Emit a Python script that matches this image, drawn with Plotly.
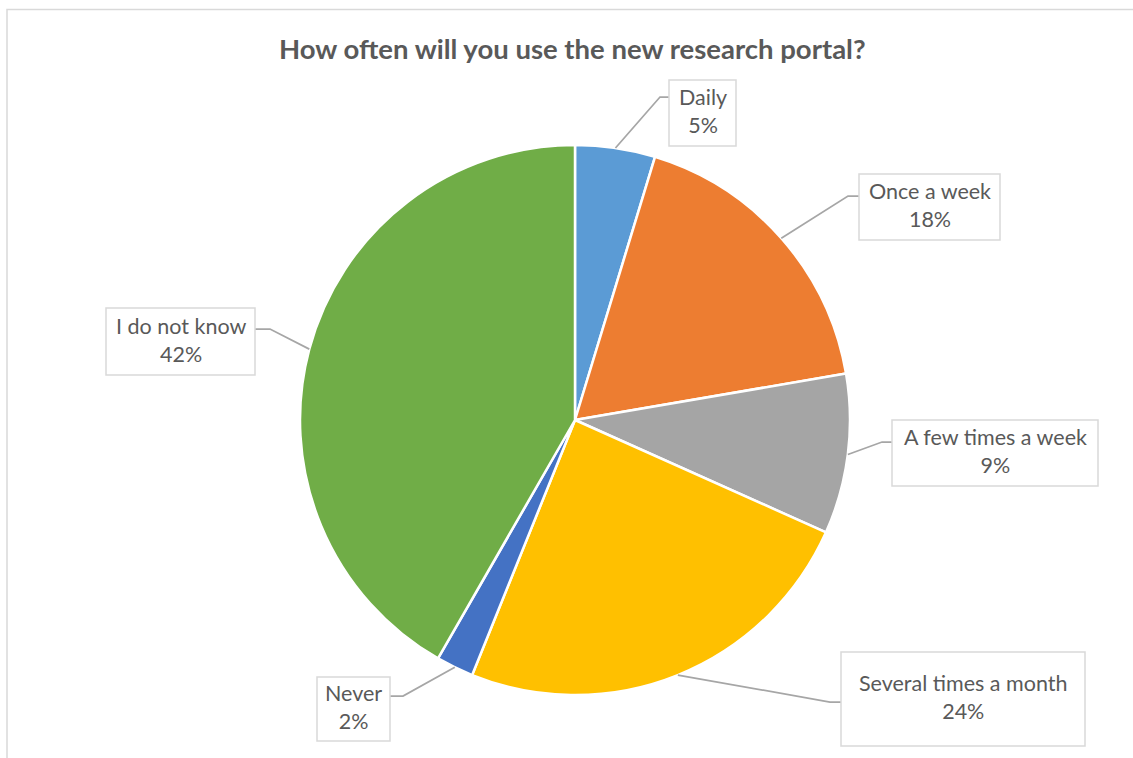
import math
import plotly.graph_objects as go

# ---- data ----
categories = ["Daily", "Once a week", "A few times a week",
              "Several times a month", "Never", "I do not know"]
values = [4.7, 17.6, 9.4, 24.4, 2.2, 41.7]
colors = ["#5B9BD5", "#ED7D31", "#A5A5A5", "#FFC000", "#4472C4", "#70AD47"]
title_text = "How often will you use the new research portal?"

# ---- layout (pixels) ----
W, H = 1133, 758
CX, CY, R = 575, 420, 275
FONT = "Lato"
TXT = "#595959"

# label boxes: (x0, y0, x1, y1) and leader elbow (x, y)
boxes = [
    (669, 80, 736, 146),
    (859, 174, 1000, 240),
    (892, 420, 1098, 486),
    (841, 652, 1085, 746),
    (317, 677, 390, 741),
    (106, 308, 255, 375),
]
elbows = [(660, 97), (848, 196), (882, 442), (830, 702), (403, 696), (270, 329)]


def px(x):
    return x / W


def py(y):
    return 1 - y / H


fig = go.Figure(go.Pie(
    labels=categories, values=values, sort=False, direction="clockwise",
    rotation=0, marker=dict(colors=colors, line=dict(color="white", width=2.5)),
    textinfo="none", hoverinfo="label+percent", showlegend=False,
    domain=dict(x=[px(CX - R), px(CX + R)], y=[py(CY + R), py(CY - R)]),
))

shapes = [dict(type="rect", xref="paper", yref="paper",
               x0=px(7), y0=py(H + 20), x1=px(W + 20), y1=py(9.5),
               line=dict(color="#D9D9D9", width=1.5), fillcolor="rgba(0,0,0,0)")]
annotations = [dict(text=f"<b>{title_text}</b>", x=px(CX - 3), y=py(48), xref="paper",
                    yref="paper", showarrow=False, xanchor="center", yanchor="middle",
                    font=dict(family=FONT, size=27.5, color=TXT))]

total = sum(values)
cum = 0.0
for i, (cat, v) in enumerate(zip(categories, values)):
    mid = (cum + v / 2) / total * 2 * math.pi
    cum += v
    sx = CX + R * math.sin(mid)
    sy = CY - R * math.cos(mid)
    x0, y0, x1, y1 = boxes[i]
    ex, ey = elbows[i]
    bx = x0 if ex < x0 else x1
    path = f"M {px(sx)},{py(sy)} L {px(ex)},{py(ey)} L {px(bx)},{py(ey)}"
    shapes.append(dict(type="path", xref="paper", yref="paper", path=path,
                       line=dict(color="#A6A6A6", width=1.75)))
    shapes.append(dict(type="rect", xref="paper", yref="paper",
                       x0=px(x0), y0=py(y1), x1=px(x1), y1=py(y0),
                       line=dict(color="#D9D9D9", width=1.5), fillcolor="white"))
    pct = round(v / total * 100)
    annotations.append(dict(text=f"{cat}<br>{pct}%", x=px((x0 + x1) / 2),
                            y=py((y0 + y1) / 2 - 2), xref="paper", yref="paper",
                            showarrow=False, xanchor="center", yanchor="middle",
                            align="center",
                            font=dict(family=FONT, size=21.5, color=TXT)))

fig.update_layout(width=W, height=H, margin=dict(l=0, r=0, t=0, b=0),
                  paper_bgcolor="white", plot_bgcolor="white",
                  shapes=shapes, annotations=annotations)
fig.write_html("out.html", config={"displayModeBar": False},
               post_script="document.body.style.margin='0';")
